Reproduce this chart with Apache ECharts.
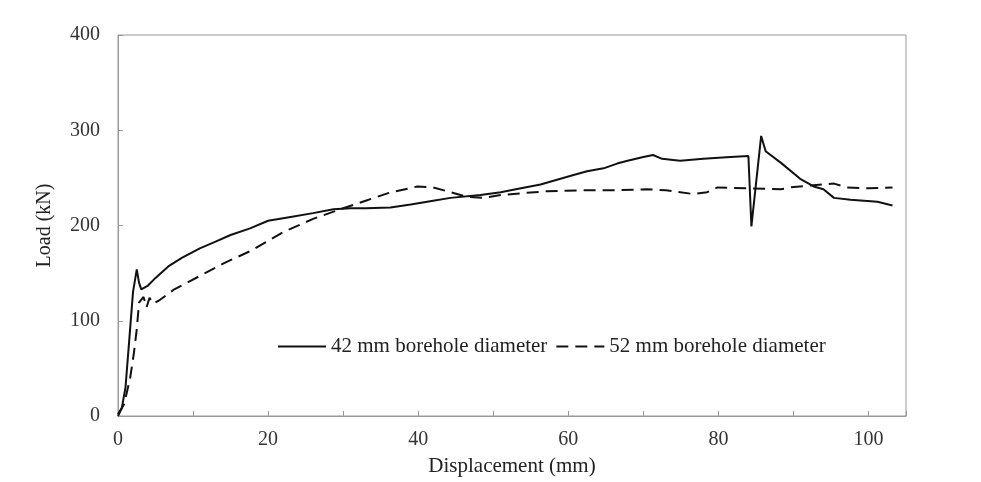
<!DOCTYPE html>
<html><head><meta charset="utf-8">
<script src="https://cdn.jsdelivr.net/npm/echarts@6/dist/echarts.min.js"></script>
<style>html,body{margin:0;padding:0;background:#fff}#c{width:981px;height:482px}</style>
</head><body><div id="c"></div>
<script>
var seriesNames = ['42 mm borehole diameter', '52 mm borehole diameter'];
var xTickLabels = ['0', '20', '40', '60', '80', '100'];
var yTickLabels = ['0', '100', '200', '300', '400'];
var load42 = [[0,0],[0.5,8],[1,30],[1.5,80],[2,130],[2.5,154],[2.8,140],[3.1,133],[4,137],[5,145],[6.7,157],[8.5,166],[10.9,176],[13,183],[15,190],[17.6,197],[20,205],[23,209],[26,213],[28.7,217],[31,218],[33,218],[36.3,219],[39,222],[42,226],[44.3,229],[48.3,232],[51,235],[53,238],[56.3,243],[58.5,248],[60.7,253],[62.5,257],[64.7,260],[66.5,265],[67.9,268],[70,272],[71.3,274],[72.5,270],[74.9,268],[78,270],[81.6,272],[84,273],[84.4,199],[85.7,294],[86.3,278],[88.3,266],[90.9,249],[92.7,241],[94,238],[95.4,229],[97.6,227],[101.2,225],[103.2,221]];
var load52 = [[0,2],[0.8,12],[1.6,39],[2.1,65],[2.5,91],[2.8,119],[3.4,125],[3.8,114],[4.2,124],[4.7,118],[5.6,122],[7.5,133],[10.9,147],[14,160],[17.6,173],[22,193],[26,207],[29.6,217],[33,226],[36,234],[39.9,241],[42,240],[44.3,235],[46.5,230],[48.7,229],[51,232],[54,234],[57.2,236],[62,237],[66,237],[70.5,238],[73,237],[76.7,233],[78.5,235],[79.9,240],[84.3,239],[88.3,238],[89.6,240],[92.3,242],[95.4,244],[97.2,240],[100,239],[103.2,240]];

var font = 'Liberation Serif';
var chart = echarts.init(document.getElementById('c'), null, {renderer:'canvas'});
chart.setOption({
  animation: false,
  backgroundColor: '#fff',
  grid: {left:118, right:75, top:35, bottom:65, show:true, borderColor:'#999', borderWidth:1},
  legend: {
    left: 272, top: 331, itemGap: 8, itemWidth: 48, itemHeight: 14,
    itemStyle: {opacity: 0},
    textStyle: {fontFamily: font, fontSize: 21, color: '#222'},
    data: [{name: seriesNames[0]}, {name: seriesNames[1]}]
  },
  xAxis: {
    type: 'value', min: 0, max: 105, interval: 10,
    name: 'Displacement (mm)', nameLocation: 'middle', nameGap: 40,
    nameTextStyle: {fontFamily: font, fontSize: 21, color: '#222'},
    axisLine: {show: true, lineStyle: {color: '#999'}},
    axisTick: {show: true, inside: true, length: 5, lineStyle: {color: '#999'}},
    axisLabel: {fontFamily: font, fontSize: 20, color: '#333', margin: 14,
      formatter: function(v){ var s = String(v); return xTickLabels.indexOf(s) >= 0 ? s : ''; }},
    splitLine: {show: false}
  },
  yAxis: {
    type: 'value', min: 0, max: 400, interval: 100,
    name: 'Load (kN)', nameLocation: 'middle', nameGap: 63, nameRotate: 90,
    nameTextStyle: {fontFamily: font, fontSize: 20, color: '#222'},
    axisLine: {show: true, lineStyle: {color: '#999'}},
    axisTick: {show: true, inside: true, length: 5, lineStyle: {color: '#999'}},
    axisLabel: {fontFamily: font, fontSize: 20, color: '#333', margin: 18,
      formatter: function(v){ var s = String(v); return yTickLabels.indexOf(s) >= 0 ? s : ''; }},
    splitLine: {show: false}
  },
  series: [
    {name: seriesNames[0], type: 'line', data: load42, symbol: 'none', showSymbol: false,
     lineStyle: {color: '#111', width: 2, type: 'solid'}, itemStyle: {color: '#111'}},
    {name: seriesNames[1], type: 'line', data: load52, symbol: 'none', showSymbol: false,
     lineStyle: {color: '#111', width: 2, type: [12, 7]}, itemStyle: {color: '#111'}}
  ]
});
</script></body></html>
